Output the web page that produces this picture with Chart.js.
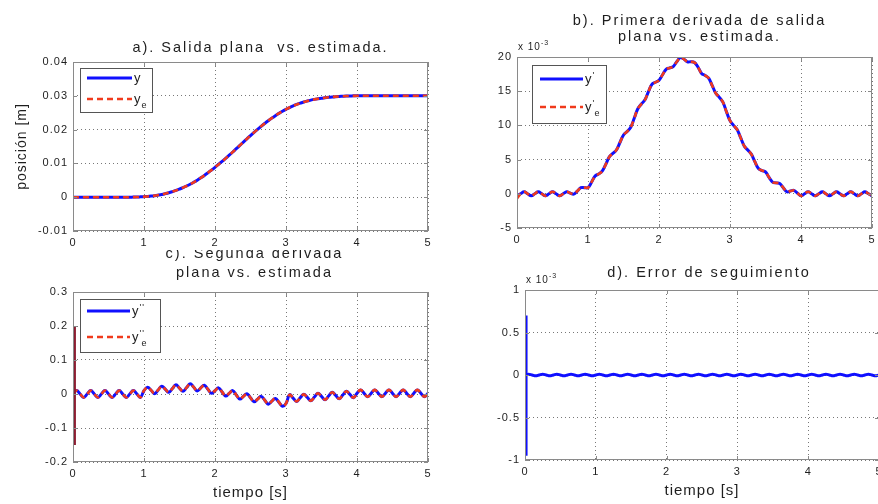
<!DOCTYPE html>
<html><head><meta charset="utf-8">
<script src="https://cdn.jsdelivr.net/npm/chart.js@4.4.0/dist/chart.umd.min.js"></script>
<style>
html,body{margin:0;padding:0;background:#fff;overflow:hidden;width:878px;height:504px;position:relative;}
canvas{position:absolute;}
</style></head><body>
<canvas id="ca" style="left:0;top:0" width="440" height="250"></canvas>
<canvas id="cb" style="left:440px;top:0" width="438" height="250"></canvas>
<canvas id="cc" style="left:0;top:250px" width="440" height="254"></canvas>
<canvas id="cd" style="left:440px;top:250px" width="440" height="254"></canvas>
<script>
// ---------- data ----------
const tGrid = [0,0.05,0.1,0.15,0.2,0.25,0.3,0.35,0.4,0.45,0.5,0.55,0.6,0.65,0.7,0.75,0.8,0.85,0.9,0.95,
1,1.05,1.1,1.15,1.2,1.25,1.3,1.35,1.4,1.45,1.5,1.55,1.6,1.65,1.7,1.75,1.8,1.85,1.9,1.95,
2,2.05,2.1,2.15,2.2,2.25,2.3,2.35,2.4,2.45,2.5,2.55,2.6,2.65,2.7,2.75,2.8,2.85,2.9,2.95,
3,3.05,3.1,3.15,3.2,3.25,3.3,3.35,3.4,3.45,3.5,3.55,3.6,3.65,3.7,3.75,3.8,3.85,3.9,3.95,
4,4.05,4.1,4.15,4.2,4.25,4.3,4.35,4.4,4.45,4.5,4.55,4.6,4.65,4.7,4.75,4.8,4.85,4.9,4.95,5];

// a) position [m]
const posY = [0,0,0,0,0,0,0,0,0,0,
0,0,0,0,0,0,0.00001,0.00003,0.00005,0.0001,
0.00016,0.00023,0.00033,0.00046,0.00063,0.00082,0.00106,0.00133,0.00165,0.002,
0.0024,0.00283,0.00331,0.00384,0.00441,0.00504,0.00572,0.00644,0.00721,0.00801,
0.00884,0.0097,0.01058,0.01149,0.01242,0.01337,0.01435,0.01533,0.01631,0.01728,
0.01824,0.01917,0.02008,0.02096,0.02181,0.02262,0.02339,0.02412,0.0248,0.02543,
0.026,0.02653,0.027,0.02744,0.02782,0.02817,0.02846,0.02872,0.02894,0.02912,
0.02928,0.02941,0.02955,0.02966,0.02975,0.02982,0.02988,0.02993,0.02996,0.02998,
0.03,0.03,0.03,0.03,0.03,0.03,0.03,0.03,0.03,0.03,0.03,0.03,0.03,0.03,0.03,0.03,0.03,0.03,0.03,0.03,0.03];
const posYe = [0,0,0,0,0,0,0,0,0,0,
0,0,0,0,0,0,0.00001,0.00003,0.00005,0.0001,
0.00016,0.00023,0.00033,0.00046,0.00063,0.00082,0.00106,0.00133,0.00165,0.002,
0.0024,0.00283,0.00331,0.00384,0.00441,0.00504,0.00572,0.00644,0.00721,0.00801,
0.00884,0.0097,0.01058,0.01149,0.01242,0.01337,0.01435,0.01533,0.01631,0.01728,
0.01824,0.01917,0.02008,0.02096,0.02181,0.02262,0.02339,0.02412,0.0248,0.02543,
0.026,0.02653,0.027,0.02744,0.02782,0.02817,0.02846,0.02872,0.02894,0.02912,
0.02928,0.02941,0.02955,0.02966,0.02975,0.02982,0.02988,0.02993,0.02996,0.02998,
0.03,0.03,0.03,0.03,0.03,0.03,0.03,0.03,0.03,0.03,0.03,0.03,0.03,0.03,0.03,0.03,0.03,0.03,0.03,0.03,0.03];

// b) first derivative (x 10^-3)
const velY = [-0.3,0,0.3,0,-0.3,0,0.3,0,-0.3,0,
0.3,0,-0.3,0,0.3,0.1,-0.05,0.4,0.9,0.9,
0.9,1.7,2.6,2.9,3.3,4.3,5.4,5.9,6.4,7.5,
8.6,9.1,9.7,11.0,12.4,13.1,13.7,14.9,16.0,16.3,
16.6,17.4,18.2,18.4,18.6,19.3,19.9,19.7,19.3,19.3,
19.2,18.5,17.6,17.3,16.9,15.8,14.7,14.1,13.4,12.0,
10.7,10.0,9.4,8.2,7.0,6.4,5.8,4.7,3.7,3.4,
3.2,2.4,1.7,1.6,1.5,0.9,0.3,0.4,0.5,0.1,
-0.3,0,0.3,0,-0.3,0,0.3,0,-0.3,0,
0.3,0,-0.3,0,0.3,0,-0.3,0,0.3,0,-0.3];
const velYe = [-0.7,0,0.3,0,-0.3,0,0.3,0,-0.3,0,
0.3,0,-0.3,0,0.3,0.1,-0.05,0.4,0.9,0.9,
0.9,1.7,2.6,2.9,3.3,4.3,5.4,5.9,6.4,7.5,
8.6,9.1,9.7,11.0,12.4,13.1,13.7,14.9,16.0,16.3,
16.6,17.4,18.2,18.4,18.6,19.3,19.9,19.7,19.3,19.3,
19.2,18.5,17.6,17.3,16.9,15.8,14.7,14.1,13.4,12.0,
10.7,10.0,9.4,8.2,7.0,6.4,5.8,4.7,3.7,3.4,
3.2,2.4,1.7,1.6,1.5,0.9,0.3,0.4,0.5,0.1,
-0.3,0,0.3,0,-0.3,0,0.3,0,-0.3,0,
0.3,0,-0.3,0,0.3,0,-0.3,0,0.3,0,-0.3];

// c) second derivative
const accY = [0,0.01,0,-0.01,0,0.01,0,-0.01,0,0.01,
0,-0.01,0,0.01,0,-0.01,0,0.01,0,-0.01,
0.010,0.020,0.011,0.001,0.012,0.023,0.014,0.005,0.016,0.027,
0.017,0.008,0.019,0.030,0.020,0.009,0.018,0.026,0.014,0.002,
0.010,0.018,0.006,-0.006,0.002,0.010,-0.003,-0.015,-0.007,0.001,
-0.011,-0.023,-0.015,-0.007,-0.018,-0.030,-0.021,-0.013,-0.024,-0.036,
-0.028,-0.002,-0.012,-0.022,-0.011,-0.001,-0.010,-0.020,-0.009,0.002,
-0.007,-0.017,-0.006,0.005,-0.004,-0.014,-0.003,0.008,-0.001,-0.011,
0.002,0.012,0.002,-0.008,0.002,0.012,0.002,-0.008,0.002,0.012,
0.002,-0.008,0.002,0.012,0.002,-0.008,0.002,0.012,0.002,-0.008,0.002];
const accYe = [0,0.01,0,-0.01,0,0.01,0,-0.01,0,0.01,
0,-0.01,0,0.01,0,-0.01,0,0.01,0,-0.01,
0.010,0.020,0.011,0.001,0.012,0.023,0.014,0.005,0.016,0.027,
0.017,0.008,0.019,0.030,0.020,0.009,0.018,0.026,0.014,0.002,
0.010,0.018,0.006,-0.006,0.002,0.010,-0.003,-0.015,-0.007,0.001,
-0.011,-0.023,-0.015,-0.007,-0.018,-0.030,-0.021,-0.013,-0.024,-0.036,
-0.028,-0.002,-0.012,-0.022,-0.011,-0.001,-0.010,-0.020,-0.009,0.002,
-0.007,-0.017,-0.006,0.005,-0.004,-0.014,-0.003,0.008,-0.001,-0.011,
0.002,0.012,0.002,-0.008,0.002,0.012,0.002,-0.008,0.002,0.012,
0.002,-0.008,0.002,0.012,0.002,-0.008,0.002,0.012,0.002,-0.008,0.002];
const accSpikeT = [0.02, 0.02];
const accSpikeV = [0.2, -0.15];

// d) tracking error (x 10^-3)
const errY = [0,0.01,0,-0.01,0,0.01,0,-0.01,0,0.01,0,-0.01,0,0.01,0,-0.01,0,0.01,0,-0.01,
0,0.01,0,-0.01,0,0.01,0,-0.01,0,0.01,0,-0.01,0,0.01,0,-0.01,0,0.01,0,-0.01,
0,0.01,0,-0.01,0,0.01,0,-0.01,0,0.01,0,-0.01,0,0.01,0,-0.01,0,0.01,0,-0.01,
0,0.01,0,-0.01,0,0.01,0,-0.01,0,0.01,0,-0.01,0,0.01,0,-0.01,0,0.01,0,-0.01,
0,0.01,0,-0.01,0,0.01,0,-0.01,0,0.01,0,-0.01,0,0.01,0,-0.01,0,0.01,0,-0.01,0];
const errSpikeT = [0.015, 0.015];
const errSpikeV = [0.7, -0.95];

const xTicks = [0,1,2,3,4,5];

// ---------- styling ----------
const FONT = '"Liberation Sans", Arial, Helvetica, sans-serif';
const INK = '#1e1e1e';
const BLUE = '#1010ff';
const RED = '#f03a1c';
Chart.defaults.font.family = FONT;
Chart.defaults.font.size = 11;
Chart.defaults.color = INK;

const pts = (xs, ys) => xs.map((x, i) => ({x: x, y: ys[i]}));

function drawLabel(ctx, label, x, y) {
  const m = label.match(/^([^'_]*)('*)(?:_(.*))?$/);
  const main = m[1], sup = m[2], sub = m[3];
  ctx.textAlign = 'left'; ctx.textBaseline = 'alphabetic'; ctx.fillStyle = INK;
  ctx.font = `13px ${FONT}`;
  ctx.fillText(main, x, y + 4);
  const w = ctx.measureText(main).width;
  if (sup) { ctx.font = `9px ${FONT}`; ctx.fillText(sup, x + w, y - 1); }
  if (sub) { ctx.font = `9px ${FONT}`; ctx.fillText(sub, x + w + (sup ? 2 : 0), y + 9); }
}

function framePlugin(cfg) {
  return {
    id: 'matlabFrame',
    beforeLayout(chart) { chart.ctx.letterSpacing = '1px'; },
    beforeDraw(chart) { chart.ctx.letterSpacing = '1px'; },
    afterDraw(chart) {
      const ctx = chart.ctx, a = chart.chartArea;
      ctx.save();
      ctx.setLineDash([]);
      ctx.strokeStyle = '#8a8a8a'; ctx.lineWidth = 1;
      ctx.strokeRect(Math.round(a.left) + 0.5, Math.round(a.top) + 0.5,
                     Math.round(a.right - a.left) - 1, Math.round(a.bottom - a.top) - 1);
      const xs = chart.scales.x, ys = chart.scales.y;
      ctx.beginPath();
      xs.ticks.forEach(tk => {
        const px = Math.round(xs.getPixelForValue(tk.value)) + 0.5;
        ctx.moveTo(px, a.bottom); ctx.lineTo(px, a.bottom - 4);
        ctx.moveTo(px, a.top); ctx.lineTo(px, a.top + 4);
      });
      ys.ticks.forEach(tk => {
        const py = Math.round(ys.getPixelForValue(tk.value)) + 0.5;
        ctx.moveTo(a.left, py); ctx.lineTo(a.left + 4, py);
        ctx.moveTo(a.right, py); ctx.lineTo(a.right - 4, py);
      });
      ctx.stroke();
      // title
      const t = cfg.title;
      ctx.letterSpacing = '2px';
      ctx.font = `14.5px ${FONT}`; ctx.fillStyle = INK;
      ctx.textAlign = 'center'; ctx.textBaseline = 'alphabetic';
      const cx = (a.left + a.right) / 2 + t.dx;
      t.lines.forEach((ln, i) => ctx.fillText(ln, cx, a.top + t.base[i]));
      // exponent
      if (cfg.exponent) {
        ctx.letterSpacing = '1px';
        ctx.textAlign = 'left';
        ctx.font = `10px ${FONT}`;
        ctx.fillText(cfg.exponent[0], a.left + 1, a.top - 7);
        const w = ctx.measureText(cfg.exponent[0]).width;
        ctx.font = `7px ${FONT}`;
        ctx.fillText(cfg.exponent[1], a.left + 1 + w, a.top - 12);
      }
      // legend
      const L = cfg.legend;
      if (L) {
        ctx.letterSpacing = '1px';
        const x0 = Math.round(a.left + L.dx), y0 = Math.round(a.top + L.dy);
        ctx.fillStyle = '#fff'; ctx.fillRect(x0, y0, L.w, L.h);
        ctx.strokeStyle = '#555'; ctx.lineWidth = 1; ctx.strokeRect(x0 + 0.5, y0 + 0.5, L.w, L.h);
        L.rows.forEach((dy, i) => {
          const ds = chart.data.datasets[i];
          const ly = y0 + dy;
          ctx.strokeStyle = ds.borderColor; ctx.lineWidth = ds.borderWidth;
          ctx.setLineDash(ds.borderDash || []);
          ctx.beginPath(); ctx.moveTo(x0 + L.lx0, ly); ctx.lineTo(x0 + L.lx1, ly); ctx.stroke();
          ctx.setLineDash([]);
          drawLabel(ctx, ds.label, x0 + L.tx, ly);
        });
      }
      ctx.restore();
    }
  };
}

function makeChart(id, c) {
  const xTitle = c.xTitle ? {display: true, text: c.xTitle, color: INK,
      font: {size: 15, family: FONT}, padding: {top: 0, bottom: c.xTitlePad}} : {display: false};
  const yTitle = c.yTitle ? {display: true, text: c.yTitle, color: INK,
      font: {size: 14, family: FONT}, padding: {top: c.yTitlePad, bottom: 0}} : {display: false};
  return new Chart(document.getElementById(id), {
    type: 'line',
    data: {datasets: c.datasets},
    options: {
      responsive: false, animation: false, events: [],
      layout: {padding: c.pad},
      elements: {point: {radius: 0}, line: {tension: 0.4, borderCapStyle: 'butt'}},
      plugins: {legend: {display: false}, tooltip: {enabled: false}, title: {display: false}},
      scales: {
        x: {
          type: 'linear', min: 0, max: 5,
          afterBuildTicks: s => { s.ticks = xTicks.map(v => ({value: v})); },
          ticks: {padding: c.xTickPad, color: INK, maxRotation: 0, autoSkip: false,
                  callback: v => String(v)},
          grid: {color: 'rgba(30,30,30,0.6)', lineWidth: 1, drawTicks: false},
          border: {display: false, dash: [1, 3]},
          title: xTitle,
          afterFit: s => { s.height = c.xH; s.paddingLeft = 0; s.paddingRight = 0; }
        },
        y: {
          type: 'linear', min: c.yMin, max: c.yMax,
          afterBuildTicks: s => { s.ticks = c.yTicks.map(v => ({value: v})); },
          ticks: {padding: 5, color: INK, autoSkip: false, callback: c.yFmt},
          grid: {color: 'rgba(30,30,30,0.6)', lineWidth: 1, drawTicks: false},
          border: {display: false, dash: [1, 3]},
          title: yTitle,
          afterFit: s => { s.width = c.yW; s.paddingTop = 0; s.paddingBottom = 0; }
        }
      }
    },
    plugins: [framePlugin(c)]
  });
}

// lower "order" is drawn on top: red dashed estimate over the blue reference
const blueDs = (label, xs, ys) => ({label, data: pts(xs, ys), borderColor: BLUE, borderWidth: 3, fill: false, order: 3});
const redDs = (label, xs, ys) => ({label, data: pts(xs, ys), borderColor: RED, borderWidth: 2.6, borderDash: [6, 4], fill: false, order: 2});

// a)
makeChart('ca', {
  datasets: [blueDs('y', tGrid, posY), redDs('y_e', tGrid, posYe)],
  pad: {top: 62, right: 12, left: 0, bottom: 0},
  xH: 19, yW: 73, xTickPad: 5,
  yMin: -0.01, yMax: 0.04, yTicks: [-0.01, 0, 0.01, 0.02, 0.03, 0.04],
  yFmt: v => String(Math.round(v * 100) / 100),
  yTitle: 'posición [m]', yTitlePad: 14,
  title: {lines: ['a). Salida plana  vs. estimada.'], base: [-10], dx: 10},
  legend: {dx: 7, dy: 6, w: 72, h: 44, rows: [10, 31], lx0: 7, lx1: 52, tx: 54}
});

// b)
makeChart('cb', {
  datasets: [blueDs("y'", tGrid, velY), redDs("y'_e", tGrid, velYe)],
  pad: {top: 57, right: 6, left: 0, bottom: 0},
  xH: 22, yW: 77, xTickPad: 5,
  yMin: -5, yMax: 20, yTicks: [-5, 0, 5, 10, 15, 20],
  yFmt: v => String(Math.round(v)),
  title: {lines: ['b). Primera derivada de salida', 'plana vs. estimada.'], base: [-32, -16], dx: 5},
  exponent: ['x 10', '-3'],
  legend: {dx: 15, dy: 8, w: 74, h: 58, rows: [14, 42], lx0: 8, lx1: 51, tx: 53}
});

// c)
makeChart('cc', {
  datasets: [blueDs("y''", tGrid, accY), redDs("y''_e", tGrid, accYe),
    {label: 'spike', data: pts(accSpikeT, accSpikeV), borderColor: '#8b1c30', borderWidth: 3, tension: 0, fill: false, order: 1}],
  pad: {top: 42, right: 12, left: 0, bottom: 0},
  xH: 42, yW: 73, xTickPad: 5,
  yMin: -0.2, yMax: 0.3, yTicks: [-0.2, -0.1, 0, 0.1, 0.2, 0.3],
  yFmt: v => String(Math.round(v * 10) / 10),
  xTitle: 'tiempo [s]', xTitlePad: 2,
  title: {lines: ['c). Segunda derivada', 'plana vs. estimada'], base: [-34, -15], dx: 4},
  legend: {dx: 7, dy: 7, w: 80, h: 53, rows: [12, 38], lx0: 7, lx1: 50, tx: 52}
});

// d)
makeChart('cd', {
  datasets: [blueDs('e', tGrid, errY),
    {label: 'spike', data: pts(errSpikeT, errSpikeV), borderColor: BLUE, borderWidth: 3, tension: 0, fill: false, order: 1}],
  pad: {top: 40, right: 1, left: 0, bottom: 0},
  xH: 44, yW: 85, xTickPad: 5,
  yMin: -1, yMax: 1, yTicks: [-1, -0.5, 0, 0.5, 1],
  yFmt: v => String(Math.round(v * 10) / 10),
  xTitle: 'tiempo [s]', xTitlePad: 4,
  title: {lines: ['d). Error de seguimiento'], base: [-13], dx: 7},
  exponent: ['x 10', '-3']
});
</script>
</body></html>
